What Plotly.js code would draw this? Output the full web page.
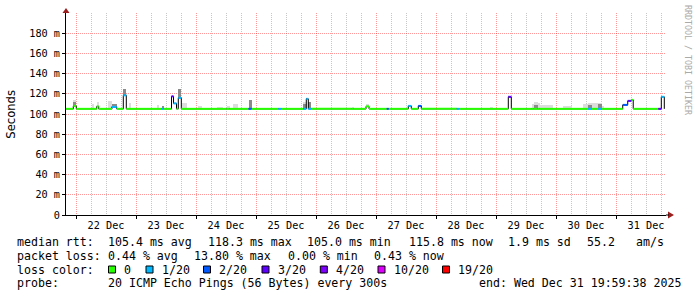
<!DOCTYPE html>
<html><head><meta charset="utf-8">
<script src="https://cdn.plot.ly/plotly-3.0.1.min.js"></script>
<style>html,body{margin:0;padding:0;background:#fff}#chart{width:697px;height:297px}</style>
</head><body><div id="chart"></div>
<script>
// ---------------- data ----------------
const dataStart = "2025-12-21 20:00";
const dataEnd = "2025-12-31 19:20";
const rangeStart = "2025-12-21 19:59:38";
const rangeEnd = "2025-12-31 19:59:38";
const baseMedian = 105.1;

const evStart = ["2025-12-21 22:55","2025-12-22 06:24","2025-12-22 08:17","2025-12-22 12:48","2025-12-22 14:17","2025-12-22 18:55","2025-12-22 21:12","2025-12-23 08:24","2025-12-23 10:17","2025-12-23 14:12","2025-12-23 15:00","2025-12-23 16:55","2025-12-23 18:24","2025-12-24 00:48","2025-12-24 08:24","2025-12-24 12:17","2025-12-24 14:48","2025-12-24 21:00","2025-12-25 08:55","2025-12-25 18:55","2025-12-25 20:07","2025-12-25 20:55","2025-12-26 14:17","2025-12-26 20:00","2025-12-27 04:17","2025-12-27 12:55","2025-12-27 16:55","2025-12-28 08:17","2025-12-28 21:36","2025-12-29 04:55","2025-12-29 14:17","2025-12-29 15:05","2025-12-29 16:41","2025-12-29 17:36","2025-12-30 02:48","2025-12-30 10:48","2025-12-30 12:48","2025-12-30 14:24","2025-12-30 16:48","2025-12-30 18:24","2025-12-31 02:41","2025-12-31 04:41","2025-12-31 06:05","2025-12-31 16:55","2025-12-31 18:07"];
const evMinutes = [72,48,48,96,120,72,48,48,48,48,72,72,120,96,144,72,120,72,72,72,48,72,48,72,48,72,72,60,72,72,48,96,48,312,216,120,96,144,96,48,120,84,48,72,72];
const evMedian = [108,105.1,107.5,105.1,107,118.5,105.1,105.1,105.1,117.5,110.5,116,105.1,105.1,105.1,105.1,105.1,105.1,105.1,105.1,115,105.1,105.1,107.5,105.1,108,108,105.1,105.1,117,105.1,105.1,105.1,105.1,105.1,105.1,105.1,105.1,105.1,105.1,109,113,114,105.1,117];
const evLoss = [0,0,0,0,1,1,0,0,1,3,1,1,0,0,0,0,0,2,1,1,1,1,0,0,2,1,2,1,0,3,0,0,0,0,0,0,1,0,1,0,2,3,0,3,1];
const evSmokeDark = [112,null,null,null,110,124.5,null,null,108,null,null,124.5,null,null,null,null,null,114,null,110,116,112,null,null,null,null,null,null,null,null,null,108.5,null,null,null,null,109,null,110,null,null,null,null,null,null];
const evSmokeLight = [114,110,111.5,113,110,null,111,108.5,null,null,null,null,111,108,107,107.5,110,null,null,112,null,112,107,110,null,null,null,null,107,null,110,112,111,108.5,107.5,110,111,111,111,108,null,null,null,null,null];

const lossLevels = [0,1,2,3,4,10,19];
const lossLabels = ["0","1/20","2/20","3/20","4/20","10/20","19/20"];
const lossColors = ["#26ff00","#00b8ff","#0059ff","#5e00ff","#7e00ff","#dd00ff","#ff0000"];

const yTickVals = [0,20,40,60,80,100,120,140,160,180];
const yTickText = ["0","20 m","40 m","60 m","80 m","100 m","120 m","140 m","160 m","180 m"];

const rttLabel = "median rtt:";
const rttItems = ["105.4 ms avg","118.3 ms max","105.0 ms min","115.8 ms now","1.9 ms sd","55.2","am/s"];
const lossLabel = "packet loss:";
const lossItems = ["0.44 % avg","13.80 % max","0.00 % min","0.43 % now"];
const colorLabel = "loss color:";
const probeLabel = "probe:";
const probeText = "20 ICMP Echo Pings (56 Bytes) every 300s";
const endText = "end: Wed Dec 31 19:59:38 2025";
const yTitle = "Seconds";
const watermark = "RRDTOOL / TOBI OETIKER";

// ---------------- helpers ----------------
function toMs(s){const [d,t]=s.split(' ');const [Y,M,D]=d.split('-').map(Number);const tp=t.split(':').map(Number);return Date.UTC(Y,M-1,D,tp[0],tp[1],tp[2]||0);}
function fmt(ms){const d=new Date(ms);const p=n=>String(n).padStart(2,'0');return d.getUTCFullYear()+'-'+p(d.getUTCMonth()+1)+'-'+p(d.getUTCDate())+' '+p(d.getUTCHours())+':'+p(d.getUTCMinutes())+':'+p(d.getUTCSeconds());}
const nb = s => s.replace(/ /g,'\u00a0');

// build step segments
const segs=[];let cur=toMs(dataStart);const endMs=toMs(dataEnd);
const order=evStart.map((_,i)=>i).sort((a,b)=>toMs(evStart[a])-toMs(evStart[b]));
order.forEach(i=>{const s=toMs(evStart[i]);const e=s+evMinutes[i]*60000;
  if(s>cur) segs.push({s:cur,e:s,m:baseMedian,l:0});
  segs.push({s:s,e:e,m:evMedian[i],l:evLoss[i]});cur=e;});
if(cur<endMs) segs.push({s:cur,e:endMs,m:baseMedian,l:0});

const traces=[];
// smoke
function smokeTrace(tops,color){
  const x=[],y=[],base=[],w=[];
  evStart.forEach((st,i)=>{if(tops[i]==null)return;const s=toMs(st);const d=evMinutes[i]*60000;
    x.push(fmt(s+d/2));w.push(d);base.push(evMedian[i]);y.push(tops[i]-evMedian[i]);});
  return {type:'bar',x:x,y:y,base:base,width:w,marker:{color:color,line:{width:0}},hoverinfo:'skip'};
}
traces.push(smokeTrace(evSmokeLight,'#dcdcdc'));
traces.push(smokeTrace(evSmokeDark,'#8a8a8a'));
// black median step line
const bx=[],by=[];
segs.forEach(g=>{bx.push(fmt(g.s),fmt(g.e));by.push(g.m,g.m);});
traces.push({type:'scatter',mode:'lines',x:bx,y:by,line:{color:'#000',width:1},hoverinfo:'skip'});
// loss-colored bands
lossLevels.forEach((lv,k)=>{
  const x=[],y=[];
  segs.forEach(g=>{if(g.l!==lv)return;x.push(fmt(g.s),fmt(g.e),null);y.push(g.m,g.m,null);});
  if(x.length) traces.push({type:'scatter',mode:'lines',x:x,y:y,line:{color:lossColors[k],width:2},connectgaps:false,hoverinfo:'skip'});
});

// ---------------- layout ----------------
const L=66,W=600,T=13,H=202;
const px=x=>(x-L)/W, py=y=>(T+H-y)/H;
const mono='DejaVu Sans Mono';
const ann=[];
function txt(t,x,y,opt){ann.push(Object.assign({text:nb(t),x:px(x),y:py(y),xref:'paper',yref:'paper',xanchor:'left',yanchor:'middle',showarrow:false,borderpad:0,font:{family:mono,size:11.6,color:'#000'}},opt||{}));}
const line1Y=242,line2Y=255.5,line3Y=269.5,line4Y=283;
txt(rttLabel,16,line1Y);
[107.3,207.3,306,407.7,506.7,586,635].forEach((x,i)=>txt(rttItems[i],x,line1Y));
txt(lossLabel,16,line2Y);
[107.3,193.3,286.7,372.7].forEach((x,i)=>txt(lossItems[i],x,line2Y));
txt(colorLabel,16,line3Y);
const swX=[108.5,146,203.5,262,320.3,378,442.5], labX=[123.3,160.7,218.3,276.7,335,392.7,456.7];
const shapes=[];
lossLabels.forEach((lab,i)=>{
  txt(lab,labX[i],line3Y);
  shapes.push({type:'rect',xref:'paper',yref:'paper',x0:px(swX[i]),x1:px(swX[i]+7),y0:py(266),y1:py(273),fillcolor:lossColors[i],line:{color:'#000',width:1}});
});
txt(probeLabel,16,line4Y);
txt(probeText,107.3,line4Y);
txt(endText,478.3,line4Y);
ann.push({text:yTitle,textangle:-90,x:px(10.7),y:py(114),xref:'paper',yref:'paper',xanchor:'center',yanchor:'middle',showarrow:false,font:{family:'DejaVu Sans',size:11.6,color:'#000'}});
ann.push({text:nb(watermark),textangle:90,x:px(688),y:py(60),xref:'paper',yref:'paper',xanchor:'center',yanchor:'middle',showarrow:false,font:{family:mono,size:8.3,color:'#aaaaaa'}});

// arrows
const arrowColor='#9a1f1f';
shapes.push({type:'path',xref:'paper',yref:'paper',path:`M ${px(62.5)} ${py(13)} L ${px(69.5)} ${py(13)} L ${px(66)} ${py(8)} Z`,fillcolor:arrowColor,line:{width:0}});
shapes.push({type:'path',xref:'paper',yref:'paper',path:`M ${px(668)} ${py(211.5)} L ${px(668)} ${py(218.5)} L ${px(674)} ${py(215)} Z`,fillcolor:arrowColor,line:{width:0}});
shapes.push({type:'line',xref:'paper',yref:'paper',x0:px(666),x1:px(669),y0:0,y1:0,line:{color:'#000',width:1}});

// minor horizontal grid positions (every 5, skipping the major 20s)
const minorY=[];for(let v=5;v<200;v+=5){if(v%20!==0)minorY.push(v);}

const redGrid='rgba(255,0,0,0.4)', grayGrid='rgba(0,0,0,0.22)';
const layout={
  width:697,height:297,margin:{l:L,r:697-L-W,t:T,b:297-T-H,pad:0},
  paper_bgcolor:'#fff',plot_bgcolor:'#fff',showlegend:false,barmode:'overlay',bargap:0,
  font:{family:mono,size:10.2,color:'#000'},
  xaxis:{type:'date',range:[rangeStart,rangeEnd],tick0:'2025-12-22',dtick:86400000,tickformat:'%d %b',ticklabelmode:'period',
    ticks:'outside',ticklen:3,tickcolor:'#000',tickfont:{family:mono,size:10.2,color:'#000'},ticklabelstandoff:-2,
    showgrid:true,gridcolor:redGrid,griddash:'1px,1px',gridwidth:1,
    minor:{tickmode:'linear',tick0:'2025-12-22',dtick:21600000,showgrid:true,gridcolor:grayGrid,griddash:'1px,1px',gridwidth:1},
    showline:true,linecolor:'#000',linewidth:1,zeroline:false,fixedrange:true},
  yaxis2:{overlaying:'y',range:[0,200],tickmode:'array',tickvals:minorY,showgrid:true,gridcolor:grayGrid,griddash:'1px,1px',gridwidth:1,
    showticklabels:false,ticks:'',showline:false,zeroline:false,fixedrange:true},
  yaxis:{range:[0,200],tickmode:'array',tickvals:yTickVals,ticktext:yTickText,
    ticks:'outside',ticklen:3,tickcolor:'#000',tickfont:{family:mono,size:10.2,color:'#000'},
    showgrid:true,gridcolor:redGrid,griddash:'1px,1px',gridwidth:1,
    showline:true,linecolor:'#000',linewidth:1,zeroline:false,fixedrange:true},
  annotations:ann,shapes:shapes
};
Plotly.newPlot('chart',traces,layout,{displayModeBar:false,staticPlot:true});
</script></body></html>
